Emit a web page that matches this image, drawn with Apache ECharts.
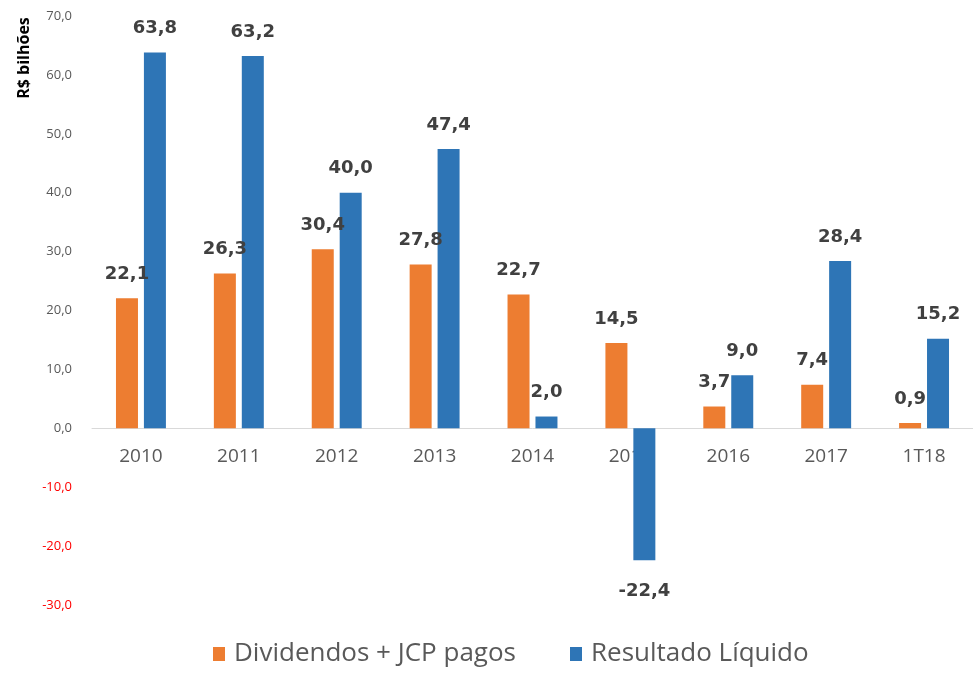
<!DOCTYPE html>
<html>
<head>
<meta charset="utf-8">
<script src="https://cdn.jsdelivr.net/npm/echarts@6/dist/echarts.min.js"></script>
<style>
  html, body { margin: 0; padding: 0; background: #fff; }
  #chart { width: 973px; height: 675px; }
</style>
</head>
<body>
<div id="chart"></div>
<script>
const categories = ['2010', '2011', '2012', '2013', '2014', '2015', '2016', '2017', '1T18'];
const dividendos = [22.1, 26.3, 30.4, 27.8, 22.7, 14.5, 3.7, 7.4, 0.9];
const resultado = [63.8, 63.2, 40.0, 47.4, 2.0, -22.4, 9.0, 28.4, 15.2];
const seriesNames = ['Dividendos + JCP pagos', 'Resultado Líquido'];

const fmt = v => v.toFixed(1).replace('.', ',');

// negative bars get their label underneath
function toData(arr) {
  return arr.map(v => v < 0 ? { value: v, label: { position: 'bottom', distance: 22 } } : v);
}

const labelStyle = {
  show: true,
  position: 'top',
  distance: 15,
  fontFamily: 'DejaVu Sans',
  fontWeight: 'bold',
  fontSize: 18,
  color: '#404040',
  formatter: p => fmt(p.value)
};

// grid: top 16, bottom 70 -> height 589, value range -30..70
const gridTop = 16, gridBottom = 70, gridH = 675 - gridTop - gridBottom;
const zeroOffset = gridH * 30 / 100;

const chart = echarts.init(document.getElementById('chart'));
chart.setOption({
  backgroundColor: '#fff',
  animation: false,
  textStyle: { fontFamily: 'Open Sans' },
  grid: { left: 92, top: gridTop, width: 892, bottom: gridBottom, containLabel: false },
  legend: {
    bottom: 3,
    left: 208,
    icon: 'rect',
    itemWidth: 12,
    itemHeight: 14,
    itemGap: 54,
    textStyle: { fontSize: 26, color: '#595959', fontFamily: 'Open Sans', padding: [0, 0, 0, 4] },
    data: seriesNames
  },
  graphic: [{
    type: 'text',
    x: 24,
    y: 58,
    rotation: Math.PI / 2,
    style: {
      text: 'R$ bilhões',
      fontFamily: 'Open Sans',
      fontWeight: 'bold',
      fontSize: 16,
      fill: '#000',
      textAlign: 'center',
      textVerticalAlign: 'middle'
    }
  }],
  xAxis: {
    type: 'category',
    data: categories,
    offset: -zeroOffset,
    axisLine: { onZero: false, lineStyle: { color: '#d9d9d9', width: 1 } },
    axisTick: { show: false },
    axisLabel: { fontSize: 19, color: '#595959', margin: 19 },
    splitLine: { show: false }
  },
  yAxis: {
    type: 'value',
    min: -30,
    max: 70,
    interval: 10,
    axisLine: { show: false },
    axisTick: { show: false },
    splitLine: { show: false },
    axisLabel: {
      fontSize: 13,
      margin: 20,
      formatter: v => fmt(v),
      color: v => v < 0 ? '#ff0000' : '#595959'
    }
  },
  series: [
    {
      name: seriesNames[0],
      type: 'bar',
      barWidth: 22,
      barGap: '27%',
      itemStyle: { color: '#ed7d31' },
      label: labelStyle,
      data: toData(dividendos)
    },
    {
      name: seriesNames[1],
      type: 'bar',
      barWidth: 22,
      itemStyle: { color: '#2e75b6' },
      label: labelStyle,
      data: toData(resultado)
    }
  ]
});
</script>
</body>
</html>
